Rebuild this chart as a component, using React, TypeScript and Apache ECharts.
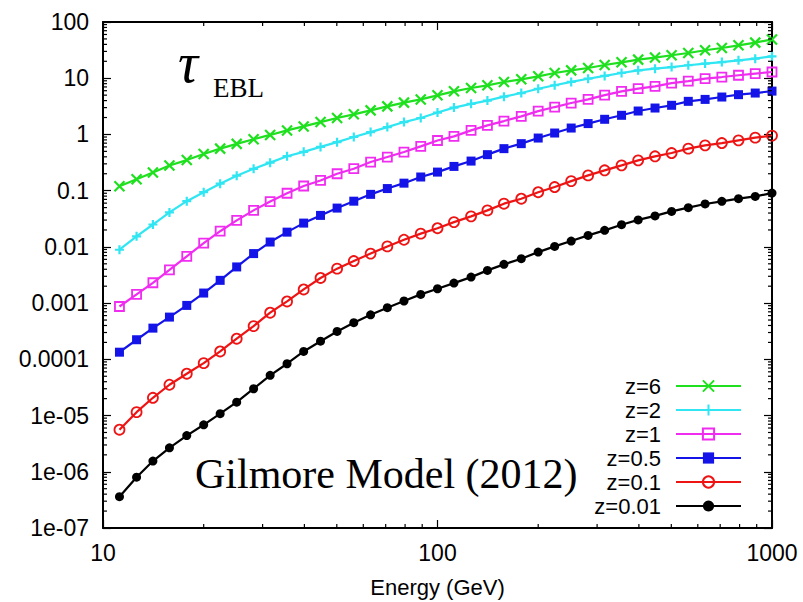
import React, { useEffect, useRef } from 'react';
import * as echarts from 'echarts';

const energies = [11.2, 12.6, 14.1, 15.8, 17.8, 20.0, 22.4, 25.1, 28.2, 31.6, 35.5, 39.8, 44.7, 50.1, 56.2, 63.1, 70.8, 79.4, 89.1, 100, 112, 126, 141, 158, 178, 200, 224, 251, 282, 316, 355, 398, 447, 501, 562, 631, 708, 794, 891, 1000];

const tauZ6 = [0.12, 0.16, 0.21, 0.28, 0.35, 0.45, 0.56, 0.68, 0.82, 0.98, 1.18, 1.39, 1.66, 1.96, 2.28, 2.68, 3.16, 3.68, 4.2, 4.96, 5.85, 6.69, 7.48, 8.56, 9.56, 10.8, 12.4, 13.8, 15.2, 17.2, 19.2, 21.4, 23.3, 25.6, 28.1, 31.4, 34.5, 38.5, 43, 49];
const tauZ2 = [0.0089, 0.0154, 0.025, 0.041, 0.065, 0.094, 0.133, 0.185, 0.245, 0.315, 0.41, 0.49, 0.60, 0.73, 0.90, 1.10, 1.35, 1.66, 1.96, 2.45, 3.0, 3.5, 4.0, 4.7, 5.45, 6.5, 7.5, 8.6, 9.8, 11.0, 12.4, 13.8, 14.8, 15.8, 17.0, 18.2, 19.4, 20.8, 22.3, 24.5];
const tauZ1 = [0.00087, 0.00143, 0.0023, 0.0039, 0.0068, 0.0117, 0.019, 0.0296, 0.0446, 0.064, 0.09, 0.121, 0.152, 0.20, 0.246, 0.323, 0.396, 0.486, 0.614, 0.78, 0.925, 1.18, 1.45, 1.73, 2.1, 2.6, 3.07, 3.62, 4.2, 5.0, 5.85, 6.53, 7.18, 8.2, 8.9, 9.84, 10.5, 11.3, 12.1, 12.9];
const tauZ05 = [0.000134, 0.000223, 0.000359, 0.000564, 0.00091, 0.00151, 0.00254, 0.0044, 0.0076, 0.0122, 0.0183, 0.0265, 0.0363, 0.049, 0.065, 0.086, 0.109, 0.136, 0.175, 0.214, 0.27, 0.336, 0.437, 0.559, 0.686, 0.863, 1.06, 1.30, 1.56, 1.86, 2.19, 2.61, 2.95, 3.3, 3.88, 4.2, 4.63, 5.1, 5.45, 5.9];
const tauZ01 = [5.6e-6, 1.15e-5, 2.07e-5, 3.53e-5, 5.55e-5, 8.55e-5, 1.38e-4, 2.33e-4, 3.9e-4, 6.75e-4, 1.07e-3, 1.75e-3, 2.8e-3, 4.1e-3, 5.6e-3, 7.6e-3, 0.0102, 0.0134, 0.0172, 0.0215, 0.0276, 0.0349, 0.0446, 0.0587, 0.072, 0.094, 0.116, 0.148, 0.187, 0.23, 0.282, 0.346, 0.408, 0.467, 0.559, 0.64, 0.703, 0.785, 0.877, 0.953];
const tauZ001 = [3.6e-7, 8.0e-7, 1.55e-6, 2.67e-6, 4.4e-6, 6.85e-6, 1.08e-5, 1.73e-5, 3.0e-5, 5.2e-5, 8.35e-5, 1.38e-4, 2.1e-4, 3.13e-4, 4.48e-4, 6.2e-4, 8.3e-4, 1.09e-3, 1.43e-3, 1.8e-3, 2.27e-3, 2.9e-3, 3.82e-3, 4.89e-3, 6.17e-3, 8.07e-3, 0.0102, 0.0127, 0.016, 0.0197, 0.0248, 0.0302, 0.0356, 0.0428, 0.0499, 0.058, 0.0645, 0.072, 0.079, 0.0906];

const seriesNames = ['z=6', 'z=2', 'z=1', 'z=0.5', 'z=0.1', 'z=0.01'];
const xTickLabels = ['10', '100', '1000'];
const yTickLabels = ['1e-07', '1e-06', '1e-05', '0.0001', '0.001', '0.01', '0.1', '1', '10', '100'];
const xDecades = [10, 100];
const yDecades = [1e-7, 1e-6, 1e-5, 1e-4, 1e-3, 1e-2, 1e-1, 1, 10];
const minorMultipliers = [2, 3, 4, 5, 6, 7, 8, 9];

const X_MIN = 10, X_MAX = 1000, Y_MIN = 1e-7, Y_MAX = 100;

export default function App() {
  const ref = useRef<HTMLDivElement>(null);
  useEffect(() => {
    const chart = echarts.init(ref.current!, null, { renderer: 'svg' });
    const sans = 'Liberation Sans, Arial, sans-serif';
    const serif = 'Liberation Serif, Times New Roman, serif';

    const xMinor: number[] = [];
    xDecades.forEach(d => minorMultipliers.forEach(m => xMinor.push(d * m)));
    const yMinor: number[] = [];
    yDecades.forEach(d => minorMultipliers.forEach(m => yMinor.push(d * m)));

    const tickStyle = { stroke: '#000', lineWidth: 1.2 };

    const curves = [
      { name: seriesNames[0], data: tauZ6, color: '#1fe01f', symbol: 'path://M0,0L10,10M10,0L0,10', size: 10, fill: 'transparent', bw: 2.2 },
      { name: seriesNames[1], data: tauZ2, color: '#2fe6f2', symbol: 'path://M5,0L5,10M0,5L10,5', size: 9, fill: 'transparent', bw: 2.2 },
      { name: seriesNames[2], data: tauZ1, color: '#f02cf0', symbol: 'rect', size: 9, fill: 'transparent', bw: 1.8 },
      { name: seriesNames[3], data: tauZ05, color: '#1414e8', symbol: 'rect', size: 9, fill: '#1414e8', bw: 0 },
      { name: seriesNames[4], data: tauZ01, color: '#ee1414', symbol: 'circle', size: 10, fill: 'transparent', bw: 1.8 },
      { name: seriesNames[5], data: tauZ001, color: '#000000', symbol: 'circle', size: 9, fill: '#000000', bw: 0 },
    ];

    const lineSeries = curves.map(c => ({
      name: c.name,
      type: 'line',
      data: energies.map((e, i) => [e, c.data[i]]),
      symbol: c.symbol,
      symbolSize: c.size,
      showAllSymbol: true,
      lineStyle: { color: c.color, width: 2.2 },
      itemStyle: { color: c.fill, borderColor: c.color, borderWidth: c.bw },
      emphasis: { disabled: true },
      z: 3,
    }));

    const axisBase = {
      axisLine: { show: true, lineStyle: { color: '#000', width: 2 } },
      axisTick: { show: true, inside: true, length: 8, lineStyle: { color: '#000', width: 1.2 } },
      splitLine: { show: false },
      minorTick: { show: false },
    };

    const option: any = {
      animation: false,
      backgroundColor: '#fff',
      grid: { left: 103, right: 31, top: 22, bottom: 74, containLabel: false, outerBoundsMode: 'none' },
      xAxis: [
        {
          ...axisBase,
          type: 'log', logBase: 10, min: X_MIN, max: X_MAX, position: 'bottom',
          axisLabel: {
            color: '#000', fontSize: 23, fontFamily: sans, margin: 13,
            formatter: (v: number) => xTickLabels[Math.round(Math.log10(v)) - 1] ?? '',
          },
          name: 'Energy (GeV)', nameLocation: 'middle', nameGap: 48,
          nameTextStyle: { color: '#000', fontSize: 22, fontFamily: sans },
        },
        {
          ...axisBase,
          type: 'log', logBase: 10, min: X_MIN, max: X_MAX, position: 'top',
          axisLabel: { show: false },
        },
      ],
      yAxis: [
        {
          ...axisBase,
          type: 'log', logBase: 10, min: Y_MIN, max: Y_MAX, position: 'left',
          axisLabel: {
            color: '#000', fontSize: 23, fontFamily: sans, margin: 14,
            formatter: (v: number) => yTickLabels[Math.round(Math.log10(v)) + 7] ?? '',
          },
        },
        {
          ...axisBase,
          type: 'log', logBase: 10, min: Y_MIN, max: Y_MAX, position: 'right',
          axisLabel: { show: false },
        },
      ],
      legend: {
        data: seriesNames,
        orient: 'vertical',
        right: 61,
        top: 375,
        padding: 0,
        align: 'right',
        itemWidth: 65,
        itemHeight: 14,
        itemGap: 2,
        selectedMode: false,
        textStyle: { color: '#000', fontSize: 22, fontFamily: sans, lineHeight: 20, padding: [0, 10, 0, 0] },
      },
      graphic: [
        { type: 'text', x: 178, y: 63, style: { text: 'τ', font: 'italic 56px ' + serif, fill: '#000', textVerticalAlign: 'middle', verticalAlign: 'middle' } },
        { type: 'text', x: 213, y: 88, style: { text: 'EBL', font: '27px ' + serif, fill: '#000', textVerticalAlign: 'middle', verticalAlign: 'middle' } },
        { type: 'text', x: 195, y: 474, style: { text: 'Gilmore Model (2012)', font: '42px ' + serif, fill: '#000', textVerticalAlign: 'middle', verticalAlign: 'middle' } },
      ],
      series: [
        ...lineSeries,
        {
          type: 'custom', silent: true, clip: false, z: 5,
          data: xMinor.map(v => [v, Y_MIN]),
          renderItem: (_p: any, api: any) => {
            const v = api.value(0);
            const b = api.coord([v, Y_MIN]);
            const t = api.coord([v, Y_MAX]);
            return {
              type: 'group', children: [
                { type: 'line', shape: { x1: b[0], y1: b[1], x2: b[0], y2: b[1] - 4 }, style: tickStyle },
                { type: 'line', shape: { x1: t[0], y1: t[1], x2: t[0], y2: t[1] + 4 }, style: tickStyle },
              ],
            };
          },
        },
        {
          type: 'custom', silent: true, clip: false, z: 5,
          data: yMinor.map(v => [X_MIN, v]),
          renderItem: (_p: any, api: any) => {
            const v = api.value(1);
            const l = api.coord([X_MIN, v]);
            const r = api.coord([X_MAX, v]);
            return {
              type: 'group', children: [
                { type: 'line', shape: { x1: l[0], y1: l[1], x2: l[0] + 4, y2: l[1] }, style: tickStyle },
                { type: 'line', shape: { x1: r[0], y1: r[1], x2: r[0] - 4, y2: r[1] }, style: tickStyle },
              ],
            };
          },
        },
      ],
    };

    chart.setOption(option);
    return () => chart.dispose();
  }, []);
  return <div ref={ref} style={{ position: 'fixed', left: 0, top: 0, width: 803, height: 602, background: '#fff' }} />;
}
